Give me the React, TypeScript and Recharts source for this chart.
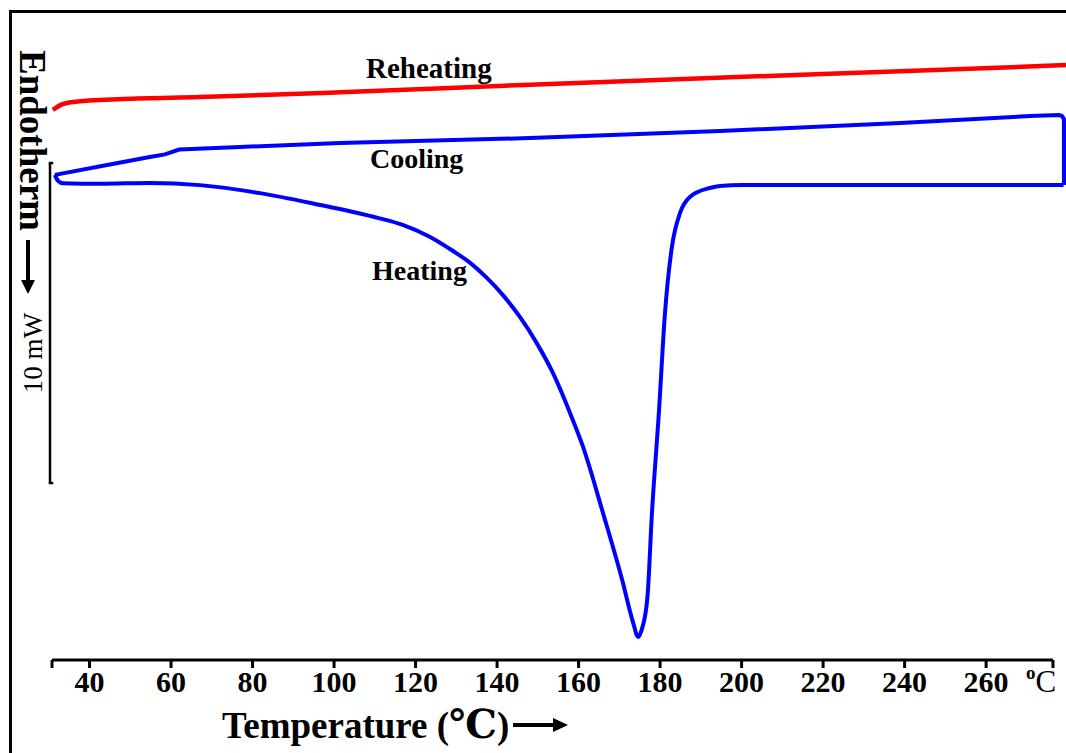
import React from "react"
import { LineChart, Line, XAxis, YAxis, ReferenceLine } from "recharts"

// DSC trace: temperature (°C) and heat flow (mW, arbitrary offset)
const HEATING_T = [31.5, 32.3, 33.5, 42.6, 54.8, 67.1, 81.8, 96.6, 104.7, 110.9, 117.0, 123.1, 129.2, 133.4, 137.5, 141.6, 145.6, 149.7, 153.7, 157.9, 161.1, 166.0, 170.7, 173.4, 174.6, 175.5, 176.9, 178.0, 179.7, 181.2, 182.9, 184.9, 187.3, 192.2, 194.7, 200, 240, 279.0]
const HEATING_MW = [15.16, 14.97, 14.9, 14.88, 14.91, 14.84, 14.59, 14.22, 14.0, 13.81, 13.59, 13.25, 12.78, 12.41, 11.94, 11.38, 10.72, 9.91, 8.97, 7.72, 6.66, 4.59, 2.5, 1.16, 0.72, 0.95, 1.97, 4.59, 7.72, 10.84, 12.91, 13.97, 14.47, 14.75, 14.81, 14.84, 14.84, 14.84]

const COOLING_T = [279.1, 279.1, 278.6, 277.9, 270.8, 238.9, 194.7, 148.1, 101.5, 76.9, 62.0, 58.5, 54.8, 44.3, 31.5]
const COOLING_MW = [14.84, 16.9, 17.0, 17.03, 17.0, 16.78, 16.53, 16.31, 16.16, 16.03, 15.95, 15.8, 15.72, 15.47, 15.16]

const REHEATING_T = [31.0, 32.8, 36.0, 48.2, 67.1, 101.5, 148.1, 197.2, 238.9, 279.6]
const REHEATING_MW = [17.19, 17.34, 17.44, 17.53, 17.59, 17.74, 17.98, 18.21, 18.4, 18.59]

const TICKS = [40, 60, 80, 100, 120, 140, 160, 180, 200, 220, 240, 260]
const AXIS_START = 30.8
const AXIS_END = 276.4

const SERIF = "'Times New Roman', 'Liberation Serif', 'DejaVu Serif', serif"

const toPoints = (t: number[], v: number[]) => t.map((x, i) => ({ t: x, v: v[i] }))

const heating = toPoints(HEATING_T, HEATING_MW)
const cooling = toPoints(COOLING_T, COOLING_MW)
const reheating = toPoints(REHEATING_T, REHEATING_MW)

const TempTick = (props: any) => {
  const { x, y, payload } = props
  if (payload.value === AXIS_START) return <g />
  if (payload.value === AXIS_END) {
    return (
      <text x={x - 27} y={y + 21} fontFamily={SERIF} fill="#000">
        <tspan fontSize={19} fontWeight="bold" y={y + 8}>o</tspan>
        <tspan fontSize={31} y={y + 21}>C</tspan>
      </text>
    )
  }
  return (
    <text x={x} y={y + 21} textAnchor="middle" fontFamily={SERIF} fontSize={30} fontWeight="bold" fill="#000">
      {payload.value}
    </text>
  )
}

export default function App() {
  return (
    <div style={{ position: "absolute", left: 0, top: 0, width: 1066, height: 753, background: "#fff" }}>
      <LineChart width={1066} height={753} margin={{ top: 20, right: 0, left: 50, bottom: 63 }}>
        <XAxis
          type="number"
          dataKey="t"
          domain={[30.3, 279.6]}
          ticks={[AXIS_START, ...TICKS, AXIS_END]}
          interval={0}
          height={30}
          axisLine={false}
          tickLine={{ stroke: "#000", strokeWidth: 3 }}
          tickSize={8}
          tickMargin={3}
          tick={<TempTick />}
        />
        <YAxis type="number" domain={[0, 20]} hide width={0} />
        <ReferenceLine segment={[{ x: AXIS_START, y: 0 }, { x: AXIS_END, y: 0 }]} stroke="#000" strokeWidth={3} ifOverflow="visible" />
        {/* 10 mW scale bar */}
        <ReferenceLine segment={[{ x: 30.3, y: 5.53 }, { x: 30.3, y: 15.53 }]} stroke="#000" strokeWidth={2.5} ifOverflow="visible" />
        <ReferenceLine segment={[{ x: 30.0, y: 15.53 }, { x: 31.1, y: 15.53 }]} stroke="#000" strokeWidth={2.5} ifOverflow="visible" />
        <ReferenceLine segment={[{ x: 30.0, y: 5.53 }, { x: 31.1, y: 5.53 }]} stroke="#000" strokeWidth={2.5} ifOverflow="visible" />
        <Line data={reheating} dataKey="v" type="monotoneX" stroke="#ff0000" strokeWidth={4.5} dot={false} isAnimationActive={false} />
        <Line data={cooling} dataKey="v" type="linear" stroke="#0000ff" strokeWidth={4} dot={false} isAnimationActive={false} />
        <Line data={heating} dataKey="v" type="monotoneX" stroke="#0000ff" strokeWidth={4} dot={false} isAnimationActive={false} />
      </LineChart>
      <svg width={1066} height={753} style={{ position: "absolute", left: 0, top: 0, pointerEvents: "none" }}>
        <path d="M10.5 753 V11.5 H1066" fill="none" stroke="#000" strokeWidth={3} />
        <g fontFamily={SERIF} fontWeight="bold" fill="#000">
          <text x={366} y={78} fontSize={29}>Reheating</text>
          <text x={370} y={168} fontSize={28}>Cooling</text>
          <text x={372} y={280} fontSize={28}>Heating</text>
          <text x={222} y={738} fontSize={37}>
            Temperature (<tspan fontSize={40}>℃</tspan>)
          </text>
          <text transform="translate(20,50) rotate(90)" fontSize={37}>Endotherm</text>
        </g>
        <text transform="translate(42,353) rotate(-90)" textAnchor="middle" fontFamily={SERIF} fontSize={27} fill="#000">10 mW</text>
        <line x1={513} y1={725} x2={556} y2={725} stroke="#000" strokeWidth={4} />
        <polygon points="553,718 568,725 553,732" fill="#000" />
        <line x1={28} y1={240} x2={28} y2={282} stroke="#000" strokeWidth={4} />
        <polygon points="21,280 28,294 35,280" fill="#000" />
      </svg>
    </div>
  )
}
